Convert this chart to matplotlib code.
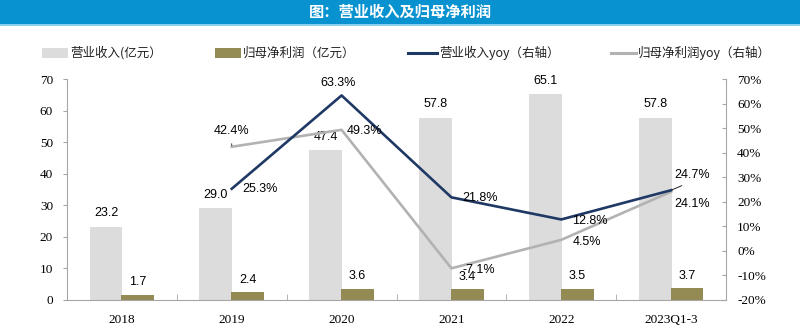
import numpy as np
import matplotlib
matplotlib.use("Agg")
import matplotlib.pyplot as plt
from matplotlib.patches import Rectangle
from matplotlib.lines import Line2D

# ── Datos ────────────────────────────────────────────────────────────────────
categorias = ["2018", "2019", "2020", "2021", "2022", "2023Q1-3"]
ingresos = [23.2, 29.0, 47.4, 57.8, 65.1, 57.8]          # 营业收入(亿元)
beneficio = [1.7, 2.4, 3.6, 3.4, 3.5, 3.7]               # 归母净利润(亿元)
ingresos_yoy = [np.nan, 25.3, 63.3, 21.8, 12.8, 24.7]    # %
beneficio_yoy = [np.nan, 42.4, 49.3, -7.1, 4.5, 24.1]    # %

# ── Paleta ───────────────────────────────────────────────────────────────────
C_ING = "#dcdcdc"
C_BEN = "#948a54"
C_ING_L = "#1f3864"
C_BEN_L = "#b2b2b2"
C_EJE = "#a6a6a6"
C_BANDA = "#0893d0"

CJK = ["Noto Sans CJK SC", "DejaVu Sans"]
SERIF = "Liberation Serif"
SANS = "Liberation Sans"

W, H = 800, 328
fig = plt.figure(figsize=(W / 100, H / 100), dpi=100, facecolor="white")


def fx(px):
    return px / W


def fy(py):
    return 1 - py / H


# banda de título
fig.add_artist(Rectangle((0, fy(24)), 1, 24 / H, transform=fig.transFigure,
                         color=C_BANDA, lw=0, zorder=0))
fig.add_artist(Line2D([0, 1], [fy(24.5), fy(24.5)], transform=fig.transFigure,
                      color="#74c6ec", lw=1.2))
fig.text(0.5, fy(12), "图：营业收入及归母净利润", color="white", fontsize=11,
         fontweight="bold", family=CJK, ha="center", va="center")

ax = fig.add_axes([fx(67), fy(300), fx(726) - fx(67), fy(79) - fy(300)])
ax2 = ax.twinx()

x = np.arange(len(categorias))
ancho = 0.30
b1 = ax.bar(x - 0.145, ingresos, ancho, color=C_ING, zorder=1)
b2 = ax.bar(x + 0.145, beneficio, ancho, color=C_BEN, zorder=2)

for rect, v in zip(b1, ingresos):
    ax.annotate(f"{v:.1f}", (rect.get_x() + rect.get_width() / 2, v),
                xytext=(0, 13.5), textcoords="offset pixels",
                ha="center", va="center", fontsize=9, family=SANS)
for rect, v in zip(b2, beneficio):
    ax.annotate(f"{v:.1f}", (rect.get_x() + rect.get_width() / 2, v),
                xytext=(0, 12.5), textcoords="offset pixels",
                ha="center", va="center", fontsize=9, family=SANS)

ax2.plot(x, ingresos_yoy, color=C_ING_L, lw=1.9, zorder=4)
ax2.plot(x, beneficio_yoy, color=C_BEN_L, lw=1.9, zorder=3)

# desplazamientos de etiquetas (px) y alineación
off_ing = [None, (11, 0, "left"), (-4, 12, "center"), (11, -1, "left"),
           (11, -1.5, "left"), (21, 15, "center")]
off_ben = [None, (0, 16, "center"), (5, -1, "left"), (11, -2, "left"),
           (11, -2, "left"), (21, -12, "center")]

for serie, offs in ((ingresos_yoy, off_ing), (beneficio_yoy, off_ben)):
    for i, (v, o) in enumerate(zip(serie, offs)):
        if o is None:
            continue
        dx, dy, ha = o
        kw = {}
        if (serie is ingresos_yoy and i == 5) or (serie is beneficio_yoy and i == 1):
            kw["arrowprops"] = dict(arrowstyle="-", color="black", lw=0.6,
                                    shrinkA=3, shrinkB=1, relpos=(0.5, 0))
        ax2.annotate(f"{v:.1f}%", (i, v), xytext=(dx, dy),
                     textcoords="offset pixels", ha=ha, va="center",
                     fontsize=9, family=SANS, zorder=6, **kw)

# ejes
ax.set_xlim(-0.5, len(categorias) - 0.5)
ax.set_ylim(0, 70)
ax.set_yticks(range(0, 71, 10))
ax2.set_ylim(-20, 70)
ax2.set_yticks(range(-20, 71, 10))
ax2.set_yticklabels([f"{t}%" for t in range(-20, 71, 10)])

ax.set_xticks(x)
ax.set_xticklabels(categorias)
ax.set_xticks(np.arange(0.5, len(categorias) - 0.5), minor=True)
ax.tick_params(axis="x", which="major", length=0, pad=10)
ax.tick_params(axis="x", which="minor", length=4, direction="in", color=C_EJE)
ax.tick_params(axis="y", length=3, direction="out", color=C_EJE, pad=7)
ax2.tick_params(axis="y", length=3, direction="in", color=C_EJE, pad=8)

for a in (ax, ax2):
    for lab in a.get_xticklabels() + a.get_yticklabels():
        lab.set_family(SERIF)
        lab.set_fontsize(9.5)
    a.spines["top"].set_visible(False)
    for s in ("left", "right", "bottom"):
        a.spines[s].set_color(C_EJE)
        a.spines[s].set_linewidth(0.8)
ax.spines["right"].set_visible(False)
ax2.spines["left"].set_visible(False)
ax2.spines["bottom"].set_visible(False)

# leyenda manual
ley_y = 53
for tipo, color, x0, x1, texto in [
        ("patch", C_ING, 42, 68, "营业收入(亿元）"),
        ("patch", C_BEN, 215, 241, "归母净利润（亿元）"),
        ("line", C_ING_L, 408, 437, "营业收入yoy（右轴）"),
        ("line", C_BEN_L, 611, 636, "归母净利润yoy（右轴）")]:
    if tipo == "patch":
        fig.add_artist(Rectangle((fx(x0), fy(ley_y + 5)), fx(x1 - x0), 10 / H,
                                 transform=fig.transFigure, color=color, lw=0))
    else:
        fig.add_artist(Line2D([fx(x0), fx(x1)], [fy(ley_y), fy(ley_y)],
                              transform=fig.transFigure, color=color, lw=2.2))
    fig.text(fx(x1 + 2), fy(ley_y), texto, fontsize=9, family=CJK,
             ha="left", va="center", color="#222222")

fig.savefig("out.png", dpi=100, facecolor="white")
